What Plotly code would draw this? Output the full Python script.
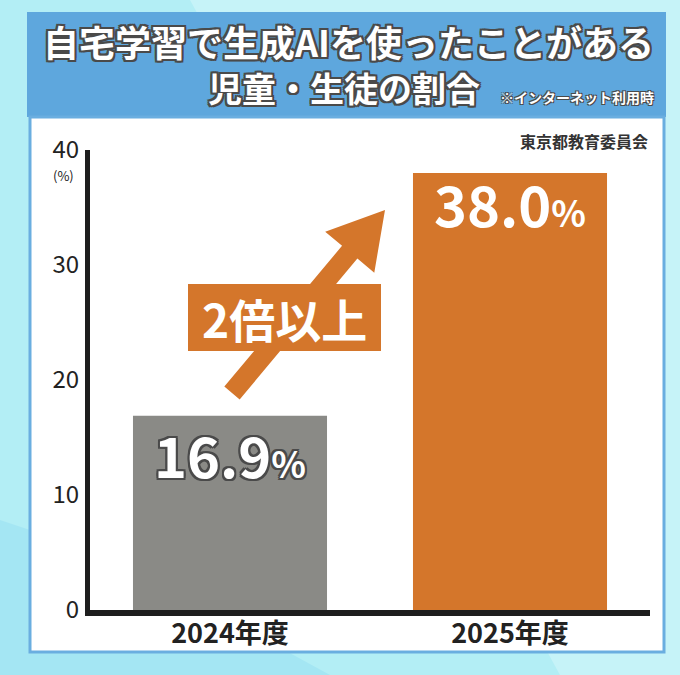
import plotly.graph_objects as go

# ---- data ----
categories = ["2024年度", "2025年度"]
values = [16.9, 38.0]
value_labels = ["16.9", "38.0"]
bar_colors = ["#8a8a86", "#d4762b"]
y_ticks = [0, 10, 20, 30, 40]
y_tick_labels = ["0", "10", "20", "30", "40"]
title_line1 = "自宅学習で生成AIを使ったことがある"
title_line2 = "児童・生徒の割合"
note_text = "※インターネット利用時"
source_text = "東京都教育委員会"
badge_text = "2倍以上"
unit_text = "(%)"

# ---- geometry (pixels) ----
W_PX, H_PX = 680, 675
L, R, T, B = 90, 30, 150, 65
PW = W_PX - L - R
PH = H_PX - T - B
FONT = "Noto Sans CJK JP"
ORANGE = "#d4762b"
GRAY = "#8a8a86"


def px(x):
    return (x - L) / PW


def py(y):
    return (H_PX - B - y) / PH


def rect(x0, y0, x1, y1, **kw):
    return dict(type="rect", xref="paper", yref="paper",
                x0=px(x0), x1=px(x1), y0=py(y1), y1=py(y0), **kw)


def path(points, **kw):
    d = "M " + " L ".join(f"{px(a):.5f},{py(b):.5f}" for a, b in points) + " Z"
    return dict(type="path", xref="paper", yref="paper", path=d, **kw)


def label(x, y, text, size, color, xanchor="center", shadow="none"):
    return dict(xref="paper", yref="paper", x=px(x), y=py(y), text=text,
                showarrow=False, xanchor=xanchor, yanchor="middle",
                font=dict(family=FONT, size=size, color=color, shadow=shadow))


outline = ("-2px -2px 0 #4a4a4a, 2px -2px 0 #4a4a4a, -2px 2px 0 #4a4a4a, "
           "2px 2px 0 #4a4a4a, 0 2px 0 #4a4a4a, 0 -2px 0 #4a4a4a, "
           "2px 0 0 #4a4a4a, -2px 0 0 #4a4a4a")
outline_thin = ("-1px -1px 0 #4a4a4a, 1px -1px 0 #4a4a4a, -1px 1px 0 #4a4a4a, "
                "1px 1px 0 #4a4a4a")

fig = go.Figure()
fig.add_trace(go.Bar(
    x=categories, y=values, marker=dict(color=bar_colors, line=dict(width=0)),
    hoverinfo="skip", showlegend=False,
))

shapes = []
# background decorations
shapes.append(path([(190, 0), (680, 0), (680, 675), (560, 675)],
                   fillcolor="#c6f3f8", line=dict(width=0), layer="below"))
shapes.append(path([(0, 520), (0, 675), (330, 675), (120, 560)],
                   fillcolor="#a4e6f3", line=dict(width=0), layer="below"))
# header box
shapes.append(rect(27, 12, 666, 117, fillcolor="#5ea7dd",
                   line=dict(width=0), layer="below"))
# white panel
shapes.append(rect(30, 117, 664, 652, fillcolor="#ffffff",
                   line=dict(color="#6aaee0", width=3), layer="below"))

# arrow (pixel geometry)
tail = (232, 393)
tip = (385, 210)
dx, dy = tip[0] - tail[0], tip[1] - tail[1]
ln = (dx ** 2 + dy ** 2) ** 0.5
ux, uy = dx / ln, dy / ln
nx, ny = -uy, ux
w, hl, hw = 10, 55, 32
bx, by = tip[0] - hl * ux, tip[1] - hl * uy
arrow_pts = [
    (tail[0] - w * nx, tail[1] - w * ny),
    (bx - w * nx, by - w * ny),
    (bx - hw * nx, by - hw * ny),
    tip,
    (bx + hw * nx, by + hw * ny),
    (bx + w * nx, by + w * ny),
    (tail[0] + w * nx, tail[1] + w * ny),
]
shapes.append(path(arrow_pts, fillcolor=ORANGE, line=dict(width=0), layer="above"))
shapes.append(rect(188, 284, 381, 351, fillcolor=ORANGE,
                   line=dict(width=0), layer="above"))

annotations = [
    label(348, 41, f"<b>{title_line1}</b>", 36, "white", shadow=outline),
    label(344, 88, f"<b>{title_line2}</b>", 34, "white", shadow=outline),
    label(656, 97, f"<b>{note_text}</b>", 14, "white", xanchor="right",
          shadow=outline_thin),
    label(650, 141, f"<b>{source_text}</b>", 16, "#333333", xanchor="right"),
    label(63, 175, unit_text, 13, "#222222"),
    label(284, 318, f"<b>{badge_text}</b>", 46, "white"),
]
# bar value labels
label_shift = {GRAY: 5, ORANGE: 13}
for cat, v, lab, col in zip(categories, values, value_labels, bar_colors):
    annotations.append(dict(
        x=cat, y=v, xref="x", yref="y", yanchor="top", xanchor="center",
        yshift=label_shift[col],
        text=f"<b>{lab}</b><span style='font-size:36px'><b>%</b></span>",
        showarrow=False,
        font=dict(family=FONT, size=56, color="white",
                  shadow=outline if col == GRAY else "none"),
    ))

fig.update_layout(
    width=W_PX, height=H_PX,
    margin=dict(l=L, r=R, t=T, b=B, pad=0),
    paper_bgcolor="#b3eef5",
    plot_bgcolor="rgba(0,0,0,0)",
    bargap=0.307,
    shapes=shapes,
    annotations=annotations,
    xaxis=dict(
        showline=True, linecolor="#1e1e1e", linewidth=6,
        showgrid=False, zeroline=False, ticks="",
        tickfont=dict(family=FONT, size=27, color="#222222", weight="bold"),
        ticklabelstandoff=-5, fixedrange=True,
    ),
    yaxis=dict(
        range=[0, 40], showline=True, linecolor="#1e1e1e", linewidth=5,
        showgrid=False, zeroline=False, ticks="",
        tickvals=y_ticks, ticktext=y_tick_labels,
        tickfont=dict(family=FONT, size=24, color="#222222"),
        ticklabelstandoff=1, fixedrange=True,
    ),
)

fig.write_html(
    "out.html",
    config=dict(displayModeBar=False),
    post_script="document.body.style.margin='0';document.body.style.overflow='hidden';",
)
